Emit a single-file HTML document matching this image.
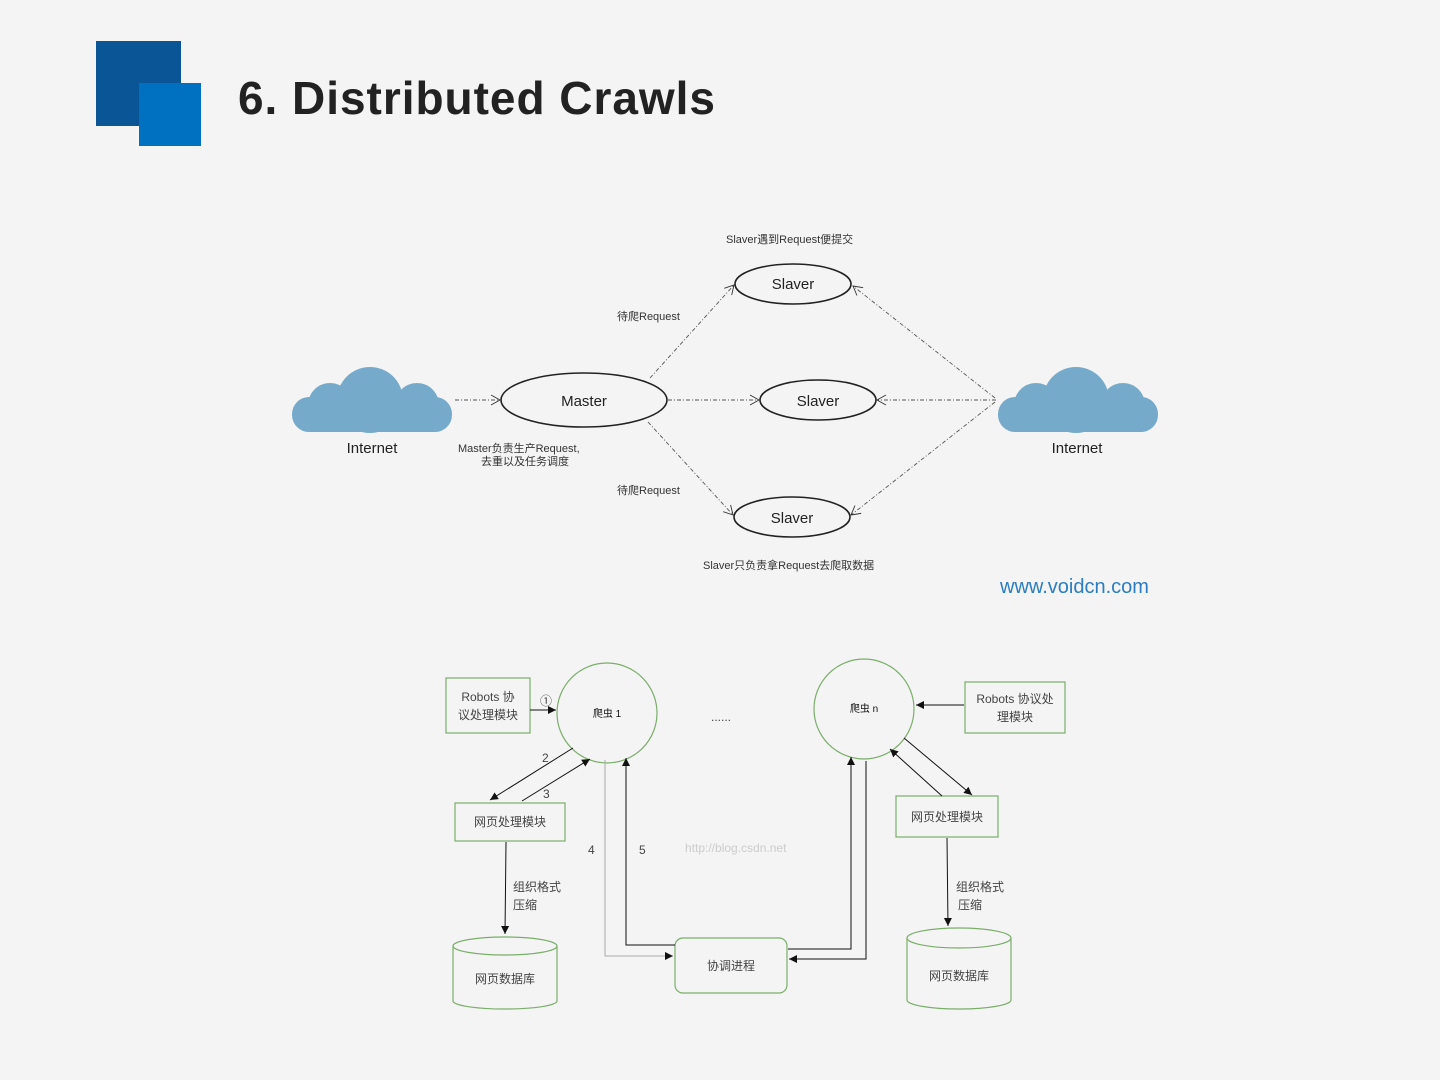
<!DOCTYPE html>
<html><head><meta charset="utf-8"><style>
html,body{margin:0;padding:0;background:#f4f4f4;}
svg{display:block;}
text{font-family:"Liberation Sans","Noto Sans CJK SC",sans-serif;}
</style></head><body>
<svg width="1440" height="1080" viewBox="0 0 1440 1080" xmlns="http://www.w3.org/2000/svg">
<defs>
<marker id="oa" markerWidth="12" markerHeight="12" refX="10" refY="6" orient="auto" markerUnits="userSpaceOnUse"><path d="M1,1 L10,6 L1,11" fill="none" stroke="#333" stroke-width="0.9"/></marker>
<marker id="fa" markerWidth="10" markerHeight="10" refX="8" refY="4" orient="auto" markerUnits="userSpaceOnUse"><path d="M0,0 L8,4 L0,8 z" fill="#111"/></marker>
</defs>
<rect width="1440" height="1080" fill="#f4f4f4"/>
<rect x="96" y="41" width="85" height="85" fill="#0a5596"/>
<rect x="139" y="83" width="62" height="63" fill="#0070c0"/>
<text x="238" y="114" font-size="46" font-weight="600" fill="#222" textLength="477" lengthAdjust="spacing">6. Distributed Crawls</text>

<!-- top diagram -->
<g fill="#76aacb">
<g transform="translate(292,367)">
<circle cx="78" cy="33" r="33"/><circle cx="38" cy="38" r="22"/><circle cx="125" cy="38" r="22"/>
<rect x="0" y="30" width="160" height="35" rx="17"/>
</g>
<g transform="translate(998,367)">
<circle cx="78" cy="33" r="33"/><circle cx="38" cy="38" r="22"/><circle cx="125" cy="38" r="22"/>
<rect x="0" y="30" width="160" height="35" rx="17"/>
</g>
</g>
<text x="372" y="453" font-size="15" fill="#222" text-anchor="middle">Internet</text>
<text x="1077" y="453" font-size="15" fill="#222" text-anchor="middle">Internet</text>

<g fill="none" stroke="#222" stroke-width="1.6">
<ellipse cx="584" cy="400" rx="83" ry="27"/>
<ellipse cx="793" cy="284" rx="58" ry="20"/>
<ellipse cx="818" cy="400" rx="58" ry="20"/>
<ellipse cx="792" cy="517" rx="58" ry="20"/>
</g>
<text x="584" y="406" font-size="15" fill="#222" text-anchor="middle">Master</text>
<text x="793" y="289" font-size="15" fill="#222" text-anchor="middle">Slaver</text>
<text x="818" y="406" font-size="15" fill="#222" text-anchor="middle">Slaver</text>
<text x="792" y="523" font-size="15" fill="#222" text-anchor="middle">Slaver</text>

<g fill="none" stroke="#555" stroke-width="0.9" stroke-dasharray="4,2,1,2">
<line x1="455" y1="400" x2="500" y2="400" marker-end="url(#oa)"/>
<line x1="668" y1="400" x2="759" y2="400" marker-end="url(#oa)"/>
<line x1="996" y1="400" x2="877" y2="400" marker-end="url(#oa)"/>
<line x1="650" y1="378" x2="734" y2="285" marker-end="url(#oa)"/>
<line x1="648" y1="422" x2="733" y2="515" marker-end="url(#oa)"/>
<line x1="995" y1="398" x2="853" y2="286" marker-end="url(#oa)"/>
<line x1="995" y1="402" x2="851" y2="515" marker-end="url(#oa)"/>
</g>
<g font-size="11" fill="#333">
<text x="726" y="243">Slaver遇到Request便提交</text>
<text x="617" y="320">待爬Request</text>
<text x="617" y="494">待爬Request</text>
<text x="458" y="452">Master负责生产Request,</text>
<text x="481" y="465">去重以及任务调度</text>
<text x="703" y="569">Slaver只负责拿Request去爬取数据</text>
</g>
<text x="1000" y="593" font-size="20" fill="#2b7cc0">www.voidcn.com</text>

<!-- bottom diagram -->
<g fill="none" stroke="#7aae6a" stroke-width="1.2">
<rect x="446" y="678" width="84" height="55"/>
<circle cx="607" cy="713" r="50"/>
<circle cx="864" cy="709" r="50"/>
<rect x="965" y="682" width="100" height="51"/>
<rect x="455" y="803" width="110" height="38"/>
<rect x="896" y="796" width="102" height="41"/>
<rect x="675" y="938" width="112" height="55" rx="8"/>
<path d="M453,946 v55 a52,8 0 0 0 104,0 v-55"/>
<ellipse cx="505" cy="946" rx="52" ry="9"/>
<path d="M907,938 v62 a52,9 0 0 0 104,0 v-62"/>
<ellipse cx="959" cy="938" rx="52" ry="10"/>
</g>
<g font-size="12" fill="#444" text-anchor="middle">
<text x="488" y="701">Robots 协</text>
<text x="488" y="719">议处理模块</text>
<text x="1015" y="703">Robots 协议处</text>
<text x="1015" y="721">理模块</text>
<text x="510" y="826">网页处理模块</text>
<text x="947" y="821">网页处理模块</text>
<text x="505" y="983">网页数据库</text>
<text x="959" y="980">网页数据库</text>
<text x="731" y="970">协调进程</text>
<text x="607" y="717" font-size="10" fill="#111">爬虫 1</text>
<text x="864" y="712" font-size="10" fill="#111">爬虫 n</text>
<text x="721" y="721">......</text>
</g>
<g font-size="12" fill="#444">
<text x="540" y="705">①</text>
<text x="542" y="762">2</text>
<text x="543" y="798">3</text>
<text x="588" y="854">4</text>
<text x="639" y="854">5</text>
<text x="513" y="891">组织格式</text>
<text x="513" y="909">压缩</text>
<text x="956" y="891">组织格式</text>
<text x="958" y="909">压缩</text>
<text x="685" y="852" fill="#ccc" font-family="Liberation Serif,serif">http://blog.csdn.net</text>
</g>
<g fill="none" stroke="#111" stroke-width="1">
<line x1="530" y1="710" x2="556" y2="710" marker-end="url(#fa)"/>
<line x1="573" y1="748" x2="490" y2="800" marker-end="url(#fa)"/>
<line x1="522" y1="801" x2="590" y2="759" marker-end="url(#fa)"/>
<line x1="506" y1="842" x2="505" y2="934" marker-end="url(#fa)"/>
<line x1="964" y1="705" x2="916" y2="705" marker-end="url(#fa)"/>
<line x1="904" y1="738" x2="972" y2="795" marker-end="url(#fa)"/>
<line x1="942" y1="796" x2="890" y2="749" marker-end="url(#fa)"/>
<line x1="947" y1="838" x2="948" y2="926" marker-end="url(#fa)"/>
<polyline points="675,945 626,945 626,758" marker-end="url(#fa)"/>
<polyline points="788,949 851,949 851,757" marker-end="url(#fa)"/>
<polyline points="866,761 866,959 789,959" marker-end="url(#fa)"/>
</g>
<polyline points="605,760 605,956 673,956" fill="none" stroke="#aaa" stroke-width="1" marker-end="url(#fa)"/>
</svg>
</body></html>
